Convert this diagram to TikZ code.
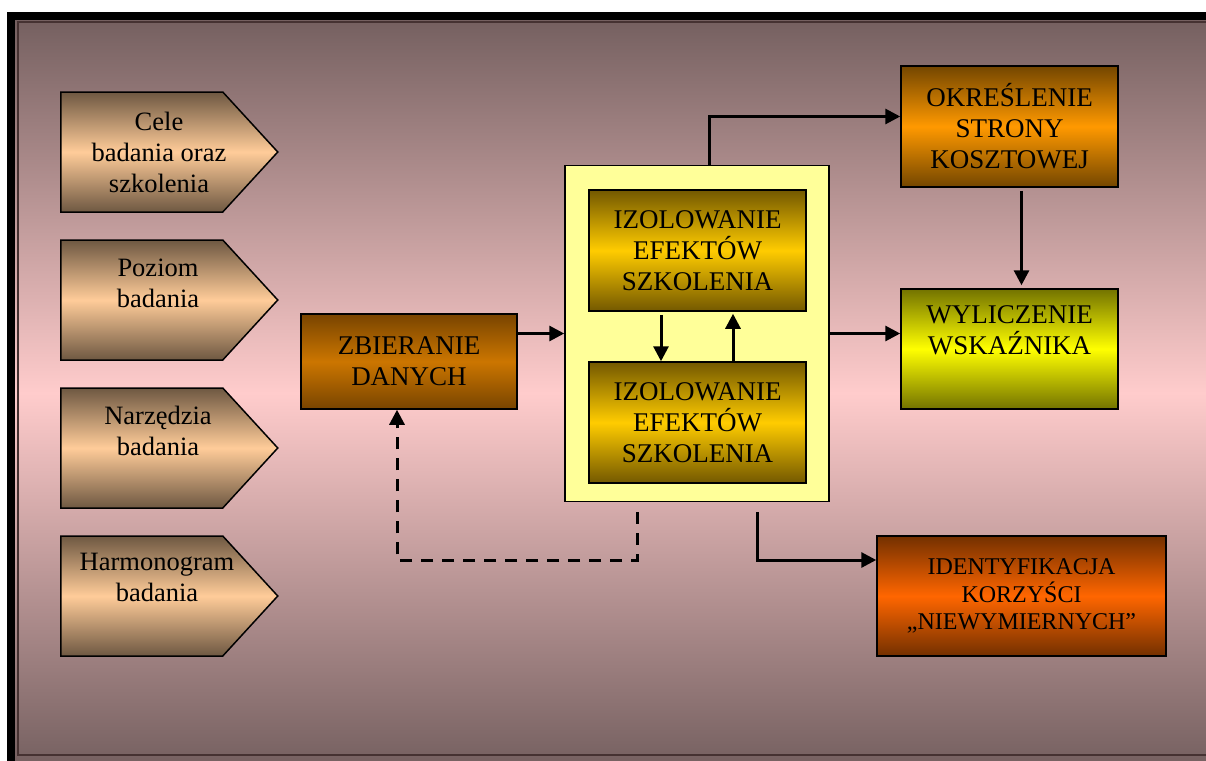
\documentclass[tikz,border=0pt]{standalone}
\usepackage{fontspec}
\setmainfont{Liberation Serif}
\usetikzlibrary{positioning,arrows.meta,shapes.symbols}
\definecolor{bgdark}{RGB}{117,96,96}
\definecolor{bglight}{RGB}{255,204,204}
\definecolor{framedark}{RGB}{70,50,50}
\definecolor{chevdark}{RGB}{110,88,66}
\definecolor{chevlight}{RGB}{255,204,153}
\definecolor{zbdark}{RGB}{120,68,0}
\definecolor{zblight}{RGB}{204,118,0}
\definecolor{izdark}{RGB}{115,88,0}
\definecolor{izlight}{RGB}{255,204,0}
\definecolor{okdark}{RGB}{115,70,0}
\definecolor{oklight}{RGB}{255,153,0}
\definecolor{wydark}{RGB}{115,115,0}
\definecolor{wylight}{RGB}{255,255,0}
\definecolor{iddark}{RGB}{115,48,0}
\definecolor{idlight}{RGB}{255,102,0}
\definecolor{paleyellow}{RGB}{255,255,153}
\tikzset{
  flowarrow/.style={-{Triangle[length=15pt,width=15pt]}, line width=3pt},
  dasharrow/.style={flowarrow, dash pattern=on 12pt off 9pt},
  chevnode/.style={shape=signal, signal to=east, signal from=nowhere, signal pointer angle=95, draw, line width=1.5pt, minimum width=217pt, minimum height=120pt, top color=chevdark, bottom color=chevdark, middle color=chevlight, inner sep=0pt},
  chevtext/.style={align=center, inner sep=0pt, font=\fontsize{26.5}{31}\selectfont},
  stepbox/.style={draw, line width=1.5pt, align=center, inner sep=0pt, font=\fontsize{27}{31}\selectfont},
  shadebox/.style 2 args={stepbox, top color=#1, bottom color=#1, middle color=#2}
}

\begin{document}
\begin{tikzpicture}[x=1pt, y=-1pt]
  \useasboundingbox (0,0) rectangle (1206,760);
  \clip (0,0) rectangle (1206,760);
  % background and frame
  \fill[top color=bgdark, bottom color=bgdark, middle color=bglight] (15,20) rectangle (1230,766);
  \draw[framedark, line width=1.2pt] (18,22) rectangle (1225,755);
  \draw[line width=8pt] (11,16) rectangle (1235,766);

  % left chevrons
  \node[chevnode, anchor=west] (ch1) at (60,152) {};
  \node[chevnode, anchor=west] (ch2) at (60,300) {};
  \node[chevnode, anchor=west] (ch3) at (60,448) {};
  \node[chevnode, anchor=west] (ch4) at (60,596) {};
  \node[chevtext] (cele) at (159,152) {Cele\\badania oraz\\szkolenia};
  \node[chevtext] (poziom) at (158,283) {Poziom\\badania};
  \node[chevtext] (narz) at (158,431) {Narzędzia\\badania};
  \node[chevtext] (harm) at (157,577) {Harmonogram\\badania};

  % boxes
  \node[shadebox={zbdark}{zblight}, minimum width=216pt, minimum height=95pt] (zbier) at (409,361.5) {ZBIERANIE\\DANYCH};
  \node[stepbox, fill=paleyellow, minimum width=264pt, minimum height=336pt] (frame) at (697,333.5) {};
  \node[shadebox={izdark}{izlight}, minimum width=217pt, minimum height=121pt] (izol1) at (697.5,250.5) {IZOLOWANIE\\EFEKTÓW\\SZKOLENIA};
  \node[shadebox={izdark}{izlight}, minimum width=217pt, minimum height=121pt] (izol2) at (697.5,422.5) {IZOLOWANIE\\EFEKTÓW\\SZKOLENIA};
  \node[shadebox={okdark}{oklight}, minimum width=217pt, minimum height=121pt] (okres) at (1009.5,126.5) {OKREŚLENIE\\STRONY\\KOSZTOWEJ};
  \node[shadebox={wydark}{wylight}, minimum width=217pt, minimum height=120pt, text depth=37pt] (wylicz) at (1009.5,349) {WYLICZENIE\\WSKAŹNIKA};
  \node[shadebox={iddark}{idlight}, minimum width=289pt, minimum height=120pt, font=\fontsize{24}{27.5}\selectfont] (ident) at (1021.5,596) {IDENTYFIKACJA\\KORZYŚCI\\„NIEWYMIERNYCH”};

  % connectors
  \draw[flowarrow] (zbier.east |- frame.west) -- (frame.west);
  \draw[flowarrow] (frame.east) -- (wylicz.west |- frame.east);
  \draw[flowarrow] ([xshift=12pt]frame.north) |- ([yshift=10pt]okres.west);
  \draw[flowarrow, shorten <=3pt, shorten >=3pt] ([xshift=12pt]okres.south) -- ([xshift=12pt]wylicz.north);
  \draw[flowarrow, shorten <=3pt] ([xshift=-36.5pt]izol1.south) -- ([xshift=-36.5pt]izol2.north);
  \draw[flowarrow, shorten >=2pt] ([xshift=35.5pt]izol2.north) -- ([xshift=35.5pt]izol1.south);
  \draw[flowarrow, shorten <=10pt] ([xshift=60pt]frame.south) |- ([yshift=36pt]ident.west);
  \draw[dasharrow] ([xshift=-60pt,yshift=-10pt]frame.south) -- ++(0,48) -| ([xshift=-12pt]zbier.south);
\end{tikzpicture}
\end{document}
